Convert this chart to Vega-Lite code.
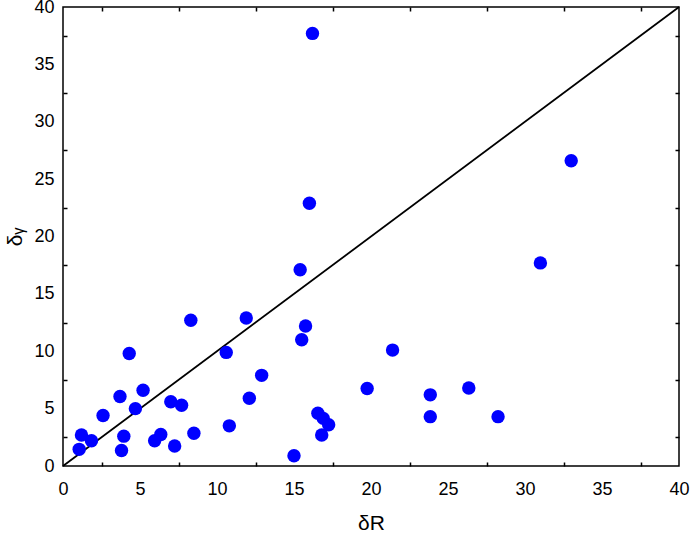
{
  "$schema": "https://vega.github.io/schema/vega-lite/v6.json",
  "autosize": {"type": "none"},
  "width": 616,
  "height": 459,
  "padding": {"left": 63, "top": 7, "right": 13, "bottom": 74},
  "background": "white",
  "config": {
    "view": {"stroke": "black", "strokeWidth": 1.5},
    "axis": {
      "domain": false,
      "ticks": false,
      "grid": true,
      "gridColor": "black",
      "gridOpacity": 1,
      "gridWidth": 1.5,
      "labelColor": "black",
      "labelFont": "Liberation Sans",
      "labelFontSize": 18,
      "titleFont": "Liberation Sans",
      "titleFontWeight": "normal",
      "titleColor": "black",
      "titleFontSize": 21,
      "labelOverlap": false,
      "labelFlush": false
    }
  },
  "datasets": {
    "pts": [
      {"dR": 16.2, "dG": 37.7},
      {"dR": 33.0, "dG": 26.6},
      {"dR": 16.0, "dG": 22.9},
      {"dR": 31.0, "dG": 17.7},
      {"dR": 15.4, "dG": 17.1},
      {"dR": 8.3, "dG": 12.7},
      {"dR": 11.9, "dG": 12.9},
      {"dR": 15.75, "dG": 12.2},
      {"dR": 15.5, "dG": 11.0},
      {"dR": 4.3, "dG": 9.8},
      {"dR": 10.6, "dG": 9.9},
      {"dR": 21.4, "dG": 10.1},
      {"dR": 12.9, "dG": 7.9},
      {"dR": 19.75, "dG": 6.75},
      {"dR": 26.35, "dG": 6.8},
      {"dR": 23.85, "dG": 6.2},
      {"dR": 5.2, "dG": 6.6},
      {"dR": 3.7, "dG": 6.05},
      {"dR": 12.1, "dG": 5.9},
      {"dR": 7.0, "dG": 5.6},
      {"dR": 7.7, "dG": 5.3},
      {"dR": 4.7, "dG": 5.0},
      {"dR": 2.6, "dG": 4.4},
      {"dR": 23.85, "dG": 4.3},
      {"dR": 28.25, "dG": 4.3},
      {"dR": 16.55, "dG": 4.6},
      {"dR": 16.9, "dG": 4.15},
      {"dR": 17.25, "dG": 3.6},
      {"dR": 10.8, "dG": 3.5},
      {"dR": 16.8, "dG": 2.7},
      {"dR": 8.5, "dG": 2.85},
      {"dR": 6.35, "dG": 2.75},
      {"dR": 5.95, "dG": 2.2},
      {"dR": 3.95, "dG": 2.6},
      {"dR": 7.25, "dG": 1.75},
      {"dR": 3.8, "dG": 1.35},
      {"dR": 1.2, "dG": 2.7},
      {"dR": 1.85, "dG": 2.2},
      {"dR": 1.05, "dG": 1.45},
      {"dR": 15.0, "dG": 0.9}
    ],
    "diag": [
      {"dR": 0, "dG": 0},
      {"dR": 40, "dG": 40}
    ]
  },
  "layer": [
    {
      "data": {"name": "diag"},
      "mark": {"type": "line", "color": "black", "strokeWidth": 1.8},
      "encoding": {
        "x": {
          "field": "dR", "type": "quantitative",
          "scale": {"domain": [0, 40], "nice": false, "zero": false},
          "axis": {
            "orient": "bottom", "title": null, "labels": false,
            "values": [2.5, 7.5, 12.5, 17.5, 22.5, 27.5, 32.5, 37.5],
            "gridDash": [4, 451, 4, 1000]
          }
        },
        "y": {
          "field": "dG", "type": "quantitative",
          "scale": {"domain": [0, 40], "nice": false, "zero": false},
          "axis": {
            "orient": "left", "title": null, "labels": false,
            "values": [2.5, 7.5, 12.5, 17.5, 22.5, 27.5, 32.5, 37.5],
            "gridDash": [4, 608, 4, 1000]
          }
        }
      }
    },
    {
      "data": {"name": "pts"},
      "mark": {"type": "circle", "color": "#0000FF", "opacity": 1, "size": 180},
      "encoding": {
        "x": {
          "field": "dR", "type": "quantitative",
          "axis": {
            "orient": "bottom", "title": "δR",
            "values": [0, 5, 10, 15, 20, 25, 30, 35, 40],
            "gridDash": [7, 445, 7, 1000],
            "labelPadding": 14,
            "titlePadding": 14
          }
        },
        "y": {
          "field": "dG", "type": "quantitative",
          "axis": {
            "orient": "left", "title": "δᵧ",
            "values": [0, 5, 10, 15, 20, 25, 30, 35, 40],
            "gridDash": [7, 602, 7, 1000],
            "labelPadding": 9,
            "titlePadding": 8
          }
        }
      }
    }
  ],
  "resolve": {"axis": {"x": "independent", "y": "independent"}}
}
